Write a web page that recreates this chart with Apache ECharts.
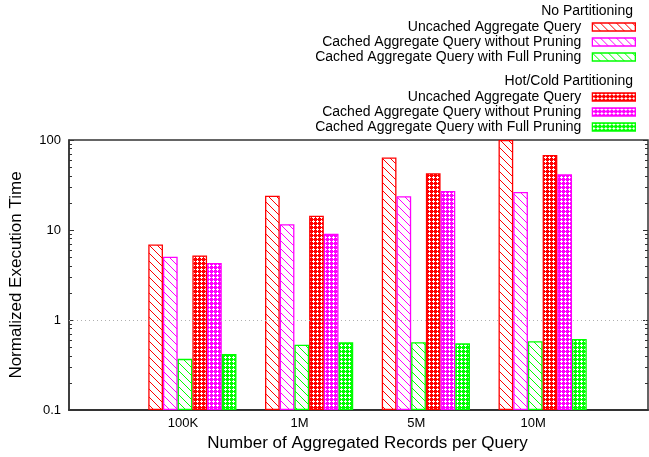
<!DOCTYPE html>
<html><head><meta charset="utf-8">
<script src="https://cdn.jsdelivr.net/npm/echarts@6/dist/echarts.min.js"></script>
<style>html,body{margin:0;background:#fff}#main{width:649px;height:457px}</style>
</head><body><div id="main"></div>
<script>
var categories = ['100K', '1M', '5M', '10M'];
var labels = ['Uncached Aggregate Query', 'Cached Aggregate Query without Pruning', 'Cached Aggregate Query with Full Pruning'];
var noPartUncached = [6.9, 24, 64, 100];
var noPartCachedNoPrune = [5.05, 11.6, 23.7, 26.4];
var noPartCachedFullPrune = [0.37, 0.53, 0.565, 0.58];
var hotColdUncached = [5.2, 14.4, 42.7, 68];
var hotColdCachedNoPrune = [4.3, 9.1, 27.1, 41.6];
var hotColdCachedFullPrune = [0.42, 0.565, 0.55, 0.615];
var yMin = 0.1, yMax = 100;
var colors = ['#ff0000', '#ff00ff', '#00ff00'];
var font = '"Liberation Sans", Arial, Helvetica, sans-serif';

// minor log ticks 2..9 of each decade
var minorTicks = [];
for (var d = yMin; d < yMax; d *= 10) { for (var k = 2; k < 10; k++) { minorTicks.push(+(k * d).toPrecision(3)) } }

function hatch(color) {
	var s = 8, c = document.createElement('canvas'); c.width = s, c.height = s
	var g = c.getContext('2d'); g.fillStyle = '#fff', g.fillRect(0, 0, s, s)
	g.strokeStyle = color, g.lineWidth = 1, g.beginPath()
	g.moveTo(-1, -1), g.lineTo(s + 1, s + 1)
	g.moveTo(-1, s - 1), g.lineTo(1, s + 1)
	g.moveTo(s - 1, -1), g.lineTo(s + 1, 1)
	g.stroke()
	return {image: c, repeat: 'repeat'}
}
function cross(color) {
	var s = 4, c = document.createElement('canvas'); c.width = s, c.height = s
	var g = c.getContext('2d'); g.fillStyle = color, g.fillRect(0, 0, s, s)
	g.fillStyle = '#fff', g.fillRect(1, 0, 1, 3), g.fillRect(0, 1, 3, 1)
	return {image: c, repeat: 'repeat'}
}

var groups = [
	{prefix: 'No: ', fill: hatch, values: [noPartUncached, noPartCachedNoPrune, noPartCachedFullPrune]},
	{prefix: 'HC: ', fill: cross, values: [hotColdUncached, hotColdCachedNoPrune, hotColdCachedFullPrune]},
]
var series = [], legendData = [[], []]
groups.forEach(function(grp, gi) {
	grp.values.forEach(function(vals, i) {
		var name = grp.prefix + labels[i]
		legendData[gi].push(name)
		series.push({name: name, type: 'bar', xAxisIndex: 1, yAxisIndex: 4, data: vals,
			barWidth: 14.7, barGap: '0%',
			itemStyle: {color: grp.fill(colors[i]), borderColor: colors[i], borderWidth: 1.3}})
	})
})
series.push({type: 'line', xAxisIndex: 0, yAxisIndex: 0, data: [], silent: true,
	markLine: {silent: true, symbol: 'none', label: {show: false}, lineStyle: {color: '#b0b0b0', type: [1, 3], width: 1}, data: [{yAxis: 1}]}})

function legend(i, top) {
	return {data: legendData[i], orient: 'vertical', align: 'right', right: 13, top: top, padding: 0,
		itemWidth: 43, itemHeight: 8, itemGap: 1, selectedMode: false, icon: 'rect',
		itemStyle: {borderWidth: 1.3},
		formatter: function(n) { return n.split(': ').pop() },
		textStyle: {fontFamily: font, fontSize: 14, color: '#000', lineHeight: 14, padding: [0, 6, 0, 0]}}
}
var logAxis = {type: 'log', logBase: 10, min: yMin, max: yMax, startValue: yMin, gridIndex: 0}
var chart = echarts.init(document.getElementById('main'))
chart.setOption({
	animation: false,
	backgroundColor: '#fff',
	grid: [
		{left: 69, top: 140, right: 1, bottom: 47, outerBoundsMode: 'none', containLabel: false,
			show: true, borderColor: '#333', borderWidth: 1.5, backgroundColor: 'transparent'},
		{left: 134, top: 140, right: 48, bottom: 47, outerBoundsMode: 'none', containLabel: false},
	],
	legend: [legend(0, 20), legend(1, 90)],
	graphic: [
		{type: 'text', right: 16, top: 4, style: {text: 'No Partitioning', font: '14px ' + font, fill: '#000'}},
		{type: 'text', right: 16, top: 74, style: {text: 'Hot/Cold Partitioning', font: '14px ' + font, fill: '#000'}},
	],
	xAxis: [
		{type: 'value', gridIndex: 0, min: 0, max: 1, axisLabel: {show: false}, axisTick: {show: false}, splitLine: {show: false},
			axisLine: {lineStyle: {color: '#333', width: 2}}},
		{type: 'category', gridIndex: 1, data: categories, axisLine: {show: false}, axisTick: {show: false},
			axisLabel: {fontFamily: font, fontSize: 13, color: '#000', margin: 7, padding: [0, 19, 0, 0]},
			name: 'Number of Aggregated Records per Query', nameLocation: 'middle', nameGap: 24,
			nameTextStyle: {fontFamily: font, fontSize: 17, color: '#000'}},
	],
	yAxis: [
		Object.assign({}, logAxis, {position: 'left', splitLine: {show: false},
			axisLine: {lineStyle: {color: '#333', width: 1.5}},
			axisTick: {inside: true, length: 5, lineStyle: {color: '#333'}},
			axisLabel: {fontFamily: font, fontSize: 13, color: '#000', margin: 8},
			name: 'Normalized Execution Time', nameLocation: 'middle', nameGap: 44,
			nameTextStyle: {fontFamily: font, fontSize: 17, color: '#000'}}),
		Object.assign({}, logAxis, {position: 'left', splitLine: {show: false}, axisLine: {show: false}, axisLabel: {show: false},
			axisTick: {inside: true, length: 3, customValues: minorTicks, lineStyle: {color: '#333'}}}),
		Object.assign({}, logAxis, {position: 'right', splitLine: {show: false}, axisLine: {show: false}, axisLabel: {show: false},
			axisTick: {inside: true, length: 5, lineStyle: {color: '#333'}}}),
		Object.assign({}, logAxis, {position: 'right', splitLine: {show: false}, axisLine: {show: false}, axisLabel: {show: false},
			axisTick: {inside: true, length: 3, customValues: minorTicks, lineStyle: {color: '#333'}}}),
		Object.assign({}, logAxis, {gridIndex: 1, show: false, splitLine: {show: false}}),
	],
	series: series,
})
</script>
</body></html>
